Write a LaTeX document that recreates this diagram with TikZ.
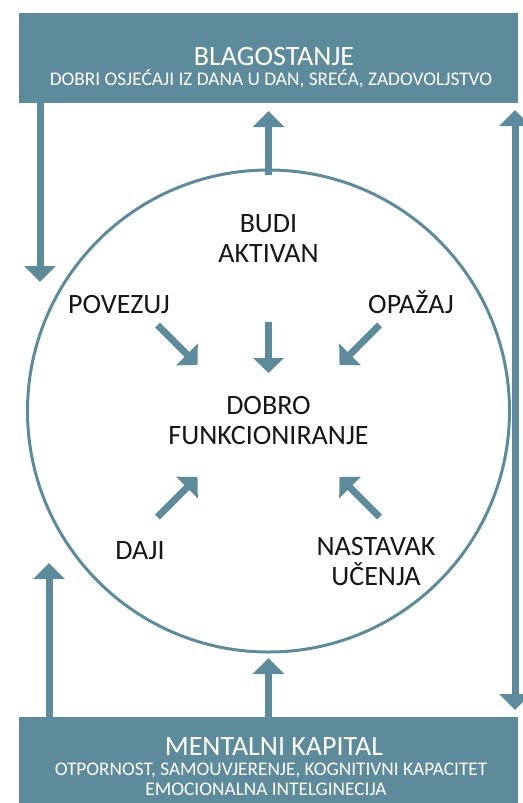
\documentclass[tikz,border=0pt]{standalone}
\usepackage{fontspec}
\setmainfont{Carlito}
\usetikzlibrary{arrows.meta}
\definecolor{teal1}{RGB}{94,139,155}
\definecolor{ink}{RGB}{22,22,22}
\begin{document}
\begin{tikzpicture}[x=1pt,y=-1pt,
  bigarrow/.style={draw=teal1,line width=7pt,-{Triangle[width=31pt,length=16pt]}},
  dblarrow/.style={draw=teal1,line width=7pt,{Triangle[width=31pt,length=16pt]}-{Triangle[width=31pt,length=16pt]}},
  smallarrow/.style={draw=teal1,line width=7pt,-{Triangle[width=30pt,length=15pt]}},
  boxnode/.style={fill=teal1,inner sep=0pt},
  lbl/.style={text=ink,font=\fontsize{28}{30}\selectfont,align=center,inner sep=0pt},
  ttl/.style={text=white,font=\fontsize{28}{30}\selectfont,anchor=base,inner sep=0pt},
  sub/.style={text=white,font=\fontsize{19.3}{20}\selectfont,anchor=base,inner sep=0pt},
]
\useasboundingbox (0,0) rectangle (522,803);
\fill[white] (0,0) rectangle (522,803);
% boxes
\node[boxnode,minimum width=499pt,minimum height=90pt] (top) at (268.5,58) {};
\node[boxnode,minimum width=499pt,minimum height=86pt] (bot) at (268.5,760) {};
\node[ttl] (toptitle) at (274,65) {BLAGOSTANJE};
\node[sub] (topsub) at (271,85) {DOBRI OSJEĆAJI IZ DANA U DAN, SREĆA, ZADOVOLJSTVO};
\node[ttl] (bottitle) at (274,755) {MENTALNI KAPITAL};
\node[sub] (botsub1) at (271,775) {OTPORNOST, SAMOUVJERENJE, KOGNITIVNI KAPACITET};
\node[sub] (botsub2) at (266,795) {EMOCIONALNA INTELGINECIJA};
% circle
\node[draw=teal1,line width=3pt,circle,minimum size=482pt,inner sep=0pt] (circ) at (268.5,411) {};
% outer arrows
\coordinate (ldn) at (40,282);
\draw[bigarrow] (top.south -| ldn) -- (ldn);
\coordinate (tmtip) at (268.5,111);
\draw[bigarrow] ([yshift=-6pt]circ.north) -- (tmtip);
\coordinate (rt) at (515,110);
\coordinate (rb) at (515,710);
\draw[dblarrow] (rt) -- (rb);
\coordinate (lup) at (49,563);
\draw[bigarrow] (bot.north -| lup) -- (lup);
\coordinate (bmtip) at (268.5,658);
\draw[bigarrow] (bot.north -| bmtip) -- (bmtip);
% labels
\node[lbl] (budi) at (268.5,239) {BUDI\\AKTIVAN};
\node[lbl,anchor=base] (povezuj) at (119,313) {POVEZUJ};
\node[lbl,anchor=base] (opazaj) at (411,313) {OPAŽAJ};
\node[lbl] (dobro) at (268.5,421) {DOBRO\\FUNKCIONIRANJE};
\node[lbl,anchor=base] (daji) at (140,559) {DAJI};
\node[lbl] (nastavak) at (376,562) {NASTAVAK\\UČENJA};
% inner arrows
\coordinate (a1s) at (268.5,322); \coordinate (a1e) at (268.5,373);
\coordinate (a2s) at (157.5,325); \coordinate (a2e) at (197.5,365);
\coordinate (a3s) at (379.5,325); \coordinate (a3e) at (339.5,365);
\coordinate (a4s) at (157.5,517); \coordinate (a4e) at (197.5,477);
\coordinate (a5s) at (379.5,517); \coordinate (a5e) at (339.5,477);
\draw[smallarrow] (a1s) -- (a1e);
\draw[smallarrow] (a2s) -- (a2e);
\draw[smallarrow] (a3s) -- (a3e);
\draw[smallarrow] (a4s) -- (a4e);
\draw[smallarrow] (a5s) -- (a5e);
\end{tikzpicture}
\end{document}
